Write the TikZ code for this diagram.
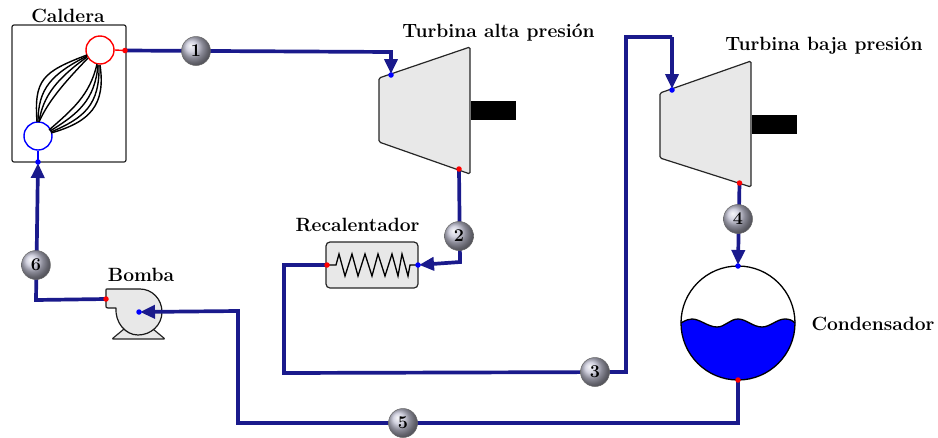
\documentclass[tikz,border=0pt]{standalone}
\usetikzlibrary{arrows.meta}
\definecolor{pipe}{HTML}{1A1A8C}
\definecolor{bodyg}{HTML}{E8E8E8}
\definecolor{ballc}{HTML}{C4C4D6}
\begin{document}
\begin{tikzpicture}[x=1pt,y=-1pt,
  pipeline/.style={draw=pipe,line width=3.7pt,line join=miter},
  flow/.style={pipeline,-{Triangle[length=15pt,width=13pt]},shorten >=1pt},
  ball/.style={circle,draw=black!60,line width=.5pt,minimum size=29pt,inner sep=0pt,ball color=ballc,font=\bfseries\fontsize{18}{18}\selectfont},
  lbl/.style={font=\bfseries\fontsize{19.2}{20}\selectfont,inner sep=0pt},
  unit/.style={draw=black!85,fill=bodyg,line width=1.2pt,rounded corners=1.5pt},
  tube/.style={draw=black,line width=1.4pt},
  pr/.style={circle,fill=red,inner sep=0pt,minimum size=5.5pt},
  pb/.style={circle,fill=blue,inner sep=0pt,minimum size=5.5pt},
  shaft/.style={fill=black,draw=none}]
\useasboundingbox (0,0) rectangle (938,437);
% caldera
\node[draw=black!85,line width=1.2pt,rounded corners=2pt,minimum width=114pt,minimum height=137pt,inner sep=0pt] (boiler) at (69,93.5) {};
\node[circle,draw=red,line width=1.4pt,minimum size=28pt,inner sep=0pt] (drumr) at (100,50) {};
\node[circle,draw=blue,line width=1.4pt,minimum size=28pt,inner sep=0pt] (drumb) at (38,136) {};
\draw[tube] (37,122) .. controls (34,80) and (42,72) .. (87,55);
\draw[tube] (38,122) .. controls (38,88) and (52,74) .. (87,56);
\draw[tube] (39,122) .. controls (43,95) and (58,78) .. (87,57);
\draw[tube] (39,122) .. controls (48,102) and (62,85) .. (88,58);
\draw[tube] (51,133) .. controls (90,122) and (106,105) .. (100,65);
\draw[tube] (51,132) .. controls (84,118) and (100,105) .. (99,65);
\draw[tube] (50,131) .. controls (78,114) and (95,100) .. (98,65);
\draw[tube] (49,130) .. controls (72,110) and (90,95) .. (97,64);
\coordinate (boilout) at (125,50.5);
\coordinate (boilin) at (38,162);
\draw[red,line width=1.4pt] (drumr.east) -- (boilout);
\draw[blue,line width=1.4pt] (drumb.south) -- (boilin);
\node[lbl] (tcal) at (68,16) {Caldera};
% turbina alta
\draw[unit] (379,78) -- (470,47) -- (470,174) -- (379,142) -- cycle;
\fill[shaft] (471,101) rectangle (516,120);
\node[lbl] (ta) at (498.5,33) {Turbina alta presión};
\coordinate (t1in) at (391,75);
\coordinate (t1out) at (459,169);
% turbina baja
\draw[unit] (660,93) -- (751,61) -- (751,187) -- (660,158) -- cycle;
\fill[shaft] (752,115) rectangle (797,134);
\node[lbl] (tb) at (824,46) {Turbina baja presión};
\coordinate (t2in) at (672,90);
\coordinate (t2out) at (739.5,183);
% recalentador
\node[unit,rounded corners=4pt,minimum width=92pt,minimum height=46pt,inner sep=0pt] (rh) at (372,265) {};
\node[lbl] (trh) at (357.5,225) {Recalentador};
\coordinate (rhin) at (418,265);
\coordinate (rhout) at (327,265);
\draw[draw=black,line width=1.3pt,line join=miter] (rhout) -- (336,265) -- (339,254) -- (345,276) -- (352,254) -- (358,276) -- (365,254) -- (372,276) -- (378,254) -- (385,276) -- (392,254) -- (398,276) -- (402,254) -- (408,276) -- (410,265) -- (rhin);
% condensador
\begin{scope}
\clip (738,323) circle (57pt);
\fill[blue] (679,323) .. controls (686,320) and (689,319) .. (692,319) .. controls (700,319) and (708,327) .. (717,327) .. controls (725,327) and (730,319) .. (738,319) .. controls (746,319) and (753,327) .. (762,327) .. controls (770,327) and (777,319) .. (785,319) .. controls (789,319) and (792,320) .. (797,323) -- (797,385) -- (679,385) -- cycle;
\end{scope}
\draw[black,line width=1.3pt] (681,323) .. controls (686,320) and (689,319) .. (692,319) .. controls (700,319) and (708,327) .. (717,327) .. controls (725,327) and (730,319) .. (738,319) .. controls (746,319) and (753,327) .. (762,327) .. controls (770,327) and (777,319) .. (785,319) .. controls (789,319) and (792,320) .. (795,323);
\node[circle,draw=black,line width=1.3pt,minimum size=114pt,inner sep=0pt] (cond) at (738,323) {};
\node[lbl] (tc) at (873,324) {Condensador};
\coordinate (cin) at (738,266);
\coordinate (cout) at (738,380);
% bomba
\draw[unit,rounded corners=1pt] (112,339) -- (124,329) -- (153,329) -- (165,339) -- cycle;
\draw[draw=black!90,fill=bodyg,line width=1.2pt,line join=round] (106,290) .. controls (106,289) and (106,289) .. (108,289) -- (140,289) .. controls (152,289) and (162,299) .. (162,312) .. controls (162,325) and (151,335) .. (138,335) .. controls (125,335) and (115,322) .. (116,308) -- (108,308) .. controls (106,308) and (106,307) .. (106,306) -- cycle;
\node[lbl] (tbo) at (141,274.5) {Bomba};
\coordinate (pin) at (139,312);
\coordinate (pout) at (106,299);
% tuberias
\coordinate (c1) at (391,52);
\coordinate (c2) at (460,262);
\coordinate (c3a) at (284,265);
\coordinate (c3b) at (284,373);
\coordinate (c3c) at (626,372);
\coordinate (c3d) at (626,37);
\coordinate (c3e) at (672,37);
\coordinate (c5a) at (738,423);
\coordinate (c5b) at (238,423);
\coordinate (c5c) at (238,311);
\coordinate (c6) at (36,300);
\draw[flow] (boilout) -- (c1) -- (t1in);
\draw[flow] (t1out) -- (c2) -- (rhin);
\draw[pipeline] (rhout) -- (c3a) -- (c3b) -- (c3c) -- (c3d) -- (c3e);
\draw[flow] (c3e) -- (t2in);
\draw[flow] (t2out) -- (cin);
\draw[flow] (cout) -- (c5a) -- (c5b) -- (c5c) -- (pin);
\draw[flow] (pout) -- (c6) -- (boilin);
% puertos
\foreach \p in {boilout,t1out,t2out,rhout,cout,pout} \node[pr] at (\p) {};
\foreach \p in {boilin,t1in,t2in,rhin,cin,pin} \node[pb] at (\p) {};
% estados
\node[ball] (s1) at (196,51) {1};
\node[ball] (s2) at (459,236) {2};
\node[ball] (s3) at (595,372) {3};
\node[ball] (s4) at (738,219) {4};
\node[ball] (s5) at (403,423) {5};
\node[ball] (s6) at (36,265) {6};
\end{tikzpicture}
\end{document}
